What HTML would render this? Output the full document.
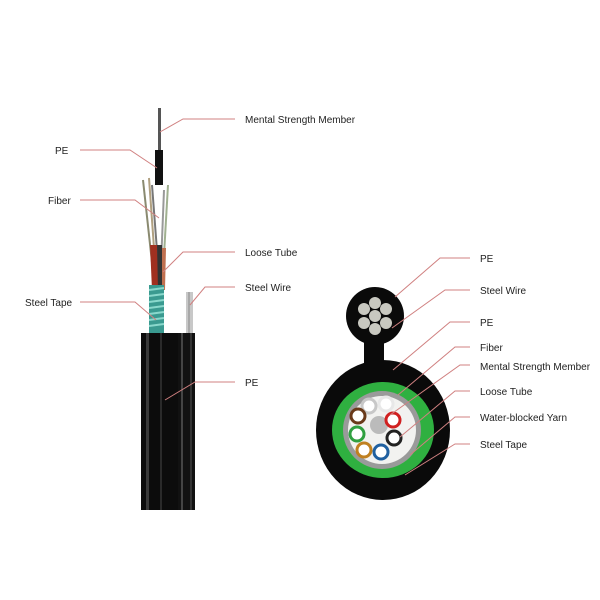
<!DOCTYPE html>
<html><head><style>
body{margin:0;width:600px;height:600px;background:#fff;overflow:hidden}
svg{display:block}
text{font-family:"Liberation Sans",sans-serif;font-size:10px;fill:#222}
</style></head><body>
<svg width="600" height="600" viewBox="0 0 600 600">
<!-- left cable -->
<!-- top rod -->
<rect x="158" y="108" width="3" height="45" fill="#555"/>
<rect x="155" y="150" width="8" height="35" fill="#111"/>
<!-- fibers -->
<g stroke-width="2" fill="none">
<line x1="143" y1="180" x2="155" y2="290" stroke="#8a8a70"/>
<line x1="149" y1="178" x2="157" y2="290" stroke="#b0a080"/>
<line x1="168" y1="185" x2="162" y2="290" stroke="#a0b090"/>
<line x1="152" y1="185" x2="160" y2="290" stroke="#777"/>
<line x1="164" y1="190" x2="160" y2="290" stroke="#999"/>
</g>
<path d="M150 245 L157 245 L159 290 L152 290Z" fill="#a03020"/>
<path d="M157 245 L162 245 L163 290 L158 290Z" fill="#333"/>
<path d="M162 248 L166 248 L165 290 L162 290Z" fill="#c07050"/>
<!-- steel tape -->
<rect x="149" y="285" width="15" height="48" fill="#3a9a90"/>
<g stroke="#8ad8cc" stroke-width="2">
<line x1="149" y1="290" x2="164" y2="288"/><line x1="149" y1="296" x2="164" y2="294"/>
<line x1="149" y1="302" x2="164" y2="300"/><line x1="149" y1="308" x2="164" y2="306"/>
<line x1="149" y1="314" x2="164" y2="312"/><line x1="149" y1="320" x2="164" y2="318"/>
<line x1="149" y1="326" x2="164" y2="324"/>
</g>
<!-- steel wire -->
<rect x="186" y="292" width="7" height="42" fill="#c8c8c8"/>
<line x1="189" y1="292" x2="189" y2="334" stroke="#888" stroke-width="1"/>
<!-- jacket -->
<rect x="141" y="333" width="40" height="177" fill="#0c0c0c"/>
<rect x="178" y="333" width="17" height="177" fill="#111"/>
<rect x="146" y="333" width="3" height="177" fill="#3a3a3a"/>
<rect x="160" y="333" width="2" height="177" fill="#2a2a2a"/>
<rect x="181" y="333" width="2" height="177" fill="#444"/>
<rect x="190" y="333" width="2" height="177" fill="#333"/>
<!-- leader lines left -->
<g stroke="#d08080" stroke-width="1" fill="none">
<polyline points="235,119 183,119 160,132"/>
<polyline points="80,150 130,150 157,168"/>
<polyline points="80,200 135,200 159,218"/>
<polyline points="235,252 183,252 163,272"/>
<polyline points="235,287 205,287 190,305"/>
<polyline points="80,302 135,302 156,320"/>
<polyline points="235,382 195,382 165,400"/>
</g>
<text x="245" y="123">Mental Strength Member</text>
<text x="55" y="154">PE</text>
<text x="48" y="204">Fiber</text>
<text x="245" y="256">Loose Tube</text>
<text x="245" y="291">Steel Wire</text>
<text x="25" y="306">Steel Tape</text>
<text x="245" y="386">PE</text>

<!-- right cross section -->
<circle cx="375" cy="316" r="29" fill="#0a0a0a"/>
<rect x="364" y="335" width="20" height="30" fill="#0a0a0a"/>
<ellipse cx="383" cy="430" rx="67" ry="70" fill="#0a0a0a"/>
<g fill="#c8c8c0">
<circle cx="375" cy="316" r="6"/><circle cx="375" cy="303" r="6"/><circle cx="375" cy="329" r="6"/>
<circle cx="364" cy="309" r="6"/><circle cx="386" cy="309" r="6"/><circle cx="364" cy="323" r="6"/><circle cx="386" cy="323" r="6"/>
</g>
<ellipse cx="383" cy="430" rx="51" ry="48" fill="#2fb040"/>
<circle cx="382" cy="430" r="39" fill="#9a9a9a"/>
<circle cx="382" cy="430" r="34" fill="#f2f2f0"/>
<circle cx="379" cy="425" r="9" fill="#bbb"/>
<g fill="#fff" stroke-width="3">
<circle cx="369" cy="406" r="7" stroke="#c8c8c8"/>
<circle cx="386" cy="404" r="7" stroke="#e8e8e8"/>
<circle cx="393" cy="420" r="7" stroke="#d02020"/>
<circle cx="394" cy="438" r="7" stroke="#222"/>
<circle cx="381" cy="452" r="7" stroke="#2060a0"/>
<circle cx="364" cy="450" r="7" stroke="#c08020"/>
<circle cx="357" cy="434" r="7" stroke="#30a040"/>
<circle cx="358" cy="416" r="7" stroke="#6a3a1a"/>
</g>
<g stroke="#d08080" stroke-width="1" fill="none">
<polyline points="470,258 440,258 395,297"/>
<polyline points="470,290 445,290 392,328"/>
<polyline points="470,322 450,322 393,370"/>
<polyline points="470,347 455,347 398,395"/>
<polyline points="470,365 460,365 390,415"/>
<polyline points="470,391 455,391 400,437"/>
<polyline points="470,417 455,417 410,455"/>
<polyline points="470,444 455,444 405,475"/>
</g>
<text x="480" y="262">PE</text>
<text x="480" y="294">Steel  Wire</text>
<text x="480" y="326">PE</text>
<text x="480" y="351">Fiber</text>
<text x="480" y="370">Mental Strength Member</text>
<text x="480" y="395">Loose Tube</text>
<text x="480" y="421">Water-blocked Yarn</text>
<text x="480" y="448">Steel Tape</text>
</svg>
</body></html>
